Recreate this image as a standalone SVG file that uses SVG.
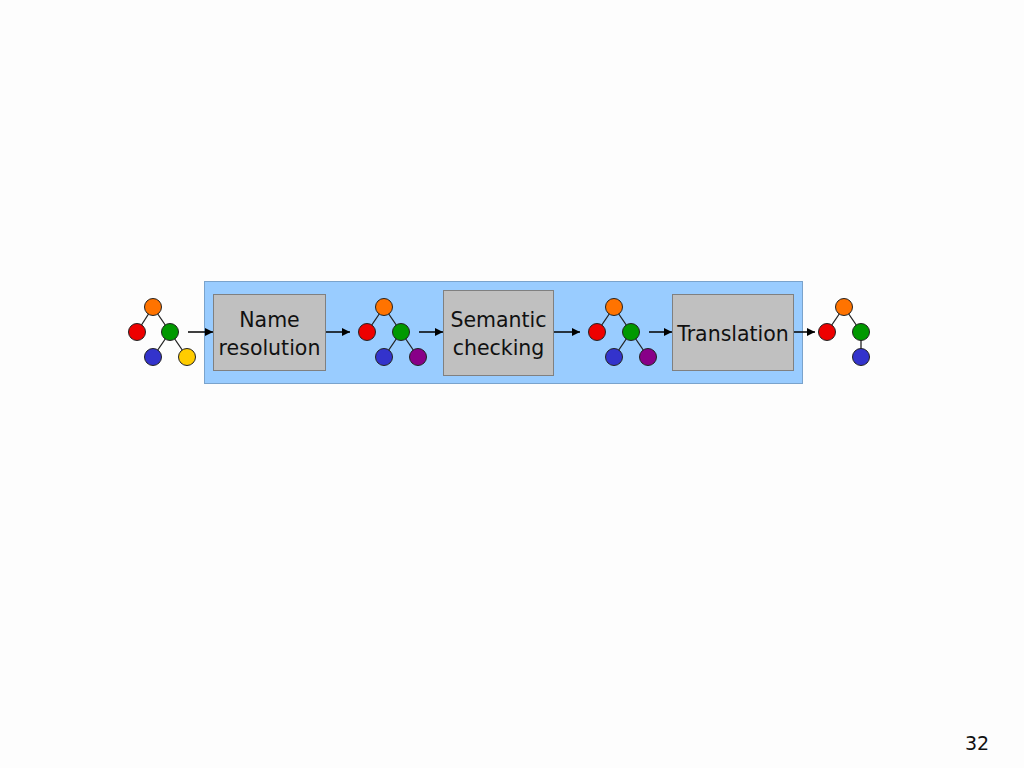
<svg xmlns="http://www.w3.org/2000/svg" width="1024" height="768" viewBox="0 0 1024 768">
<defs>
<marker id="ah" viewBox="0 0 10 10" refX="10" refY="5" markerWidth="8" markerHeight="8" markerUnits="userSpaceOnUse" orient="auto"><path d="M0,0 L10,5 L0,10 z" fill="#000"/></marker>
<style>
.box{fill:#c0c0c0;stroke:#808080;stroke-width:1}
.lbl{font-family:"DejaVu Sans",Verdana,sans-serif;font-size:20.5px;fill:#111;text-anchor:middle}
.edge{stroke:#222;stroke-width:1.3}
.c{stroke:#222;stroke-width:1}
.arr{stroke:#000;stroke-width:1.5;fill:none;marker-end:url(#ah)}
</style>
</defs>
<rect width="1024" height="768" fill="#fdfdfd"/>
<g id="panel"><rect x="204.5" y="281.5" width="598" height="102" fill="#99ccff" stroke="#7aa3cc"/></g>
<g id="tree1">
<line class="edge" x1="153" y1="307" x2="137" y2="332"/><line class="edge" x1="153" y1="307" x2="170" y2="332"/>
<line class="edge" x1="170" y1="332" x2="153" y2="357"/><line class="edge" x1="170" y1="332" x2="187" y2="357"/>
<circle class="c" cx="153" cy="307" r="8.5" fill="#ff7300"/><circle class="c" cx="137" cy="332" r="8.5" fill="#ee0000"/>
<circle class="c" cx="170" cy="332" r="8.5" fill="#009900"/><circle class="c" cx="153" cy="357" r="8.5" fill="#3333cc"/>
<circle class="c" cx="187" cy="357" r="8.5" fill="#ffcc00"/>
</g>
<g id="name-resolution"><rect class="box" x="213.5" y="294.5" width="112" height="76"/>
<text class="lbl" x="269.5" y="327">Name</text><text class="lbl" x="269.5" y="355">resolution</text></g>
<g id="tree2">
<line class="edge" x1="384" y1="307" x2="367" y2="332"/><line class="edge" x1="384" y1="307" x2="401" y2="332"/>
<line class="edge" x1="401" y1="332" x2="384" y2="357"/><line class="edge" x1="401" y1="332" x2="418" y2="357"/>
<circle class="c" cx="384" cy="307" r="8.5" fill="#ff7300"/><circle class="c" cx="367" cy="332" r="8.5" fill="#ee0000"/>
<circle class="c" cx="401" cy="332" r="8.5" fill="#009900"/><circle class="c" cx="384" cy="357" r="8.5" fill="#3333cc"/>
<circle class="c" cx="418" cy="357" r="8.5" fill="#880088"/>
</g>
<g id="semantic-checking"><rect class="box" x="443.5" y="290.5" width="110" height="85"/>
<text class="lbl" x="498.5" y="327">Semantic</text><text class="lbl" x="498.5" y="355">checking</text></g>
<g id="tree3">
<line class="edge" x1="614" y1="307" x2="597" y2="332"/><line class="edge" x1="614" y1="307" x2="631" y2="332"/>
<line class="edge" x1="631" y1="332" x2="614" y2="357"/><line class="edge" x1="631" y1="332" x2="648" y2="357"/>
<circle class="c" cx="614" cy="307" r="8.5" fill="#ff7300"/><circle class="c" cx="597" cy="332" r="8.5" fill="#ee0000"/>
<circle class="c" cx="631" cy="332" r="8.5" fill="#009900"/><circle class="c" cx="614" cy="357" r="8.5" fill="#3333cc"/>
<circle class="c" cx="648" cy="357" r="8.5" fill="#880088"/>
</g>
<g id="translation"><rect class="box" x="672.5" y="294.5" width="121" height="76"/>
<text class="lbl" x="733" y="341">Translation</text></g>
<g id="tree4">
<line class="edge" x1="844" y1="307" x2="827" y2="332"/><line class="edge" x1="844" y1="307" x2="861" y2="332"/>
<line class="edge" x1="861" y1="332" x2="861" y2="357"/>
<circle class="c" cx="844" cy="307" r="8.5" fill="#ff7300"/><circle class="c" cx="827" cy="332" r="8.5" fill="#ee0000"/>
<circle class="c" cx="861" cy="332" r="8.5" fill="#009900"/><circle class="c" cx="861" cy="357" r="8.5" fill="#3333cc"/>
</g>
<g id="connectors">
<line class="arr" x1="188" y1="332" x2="213" y2="332"/>
<line class="arr" x1="326" y1="332" x2="350" y2="332"/>
<line class="arr" x1="419" y1="332" x2="443" y2="332"/>
<line class="arr" x1="554" y1="332" x2="580" y2="332"/>
<line class="arr" x1="649" y1="332" x2="672" y2="332"/>
<line class="arr" x1="794" y1="332" x2="815" y2="332"/>
</g>
<text x="977" y="750" font-family="'DejaVu Sans',Verdana,sans-serif" font-size="19" fill="#111" text-anchor="middle">32</text>
</svg>
